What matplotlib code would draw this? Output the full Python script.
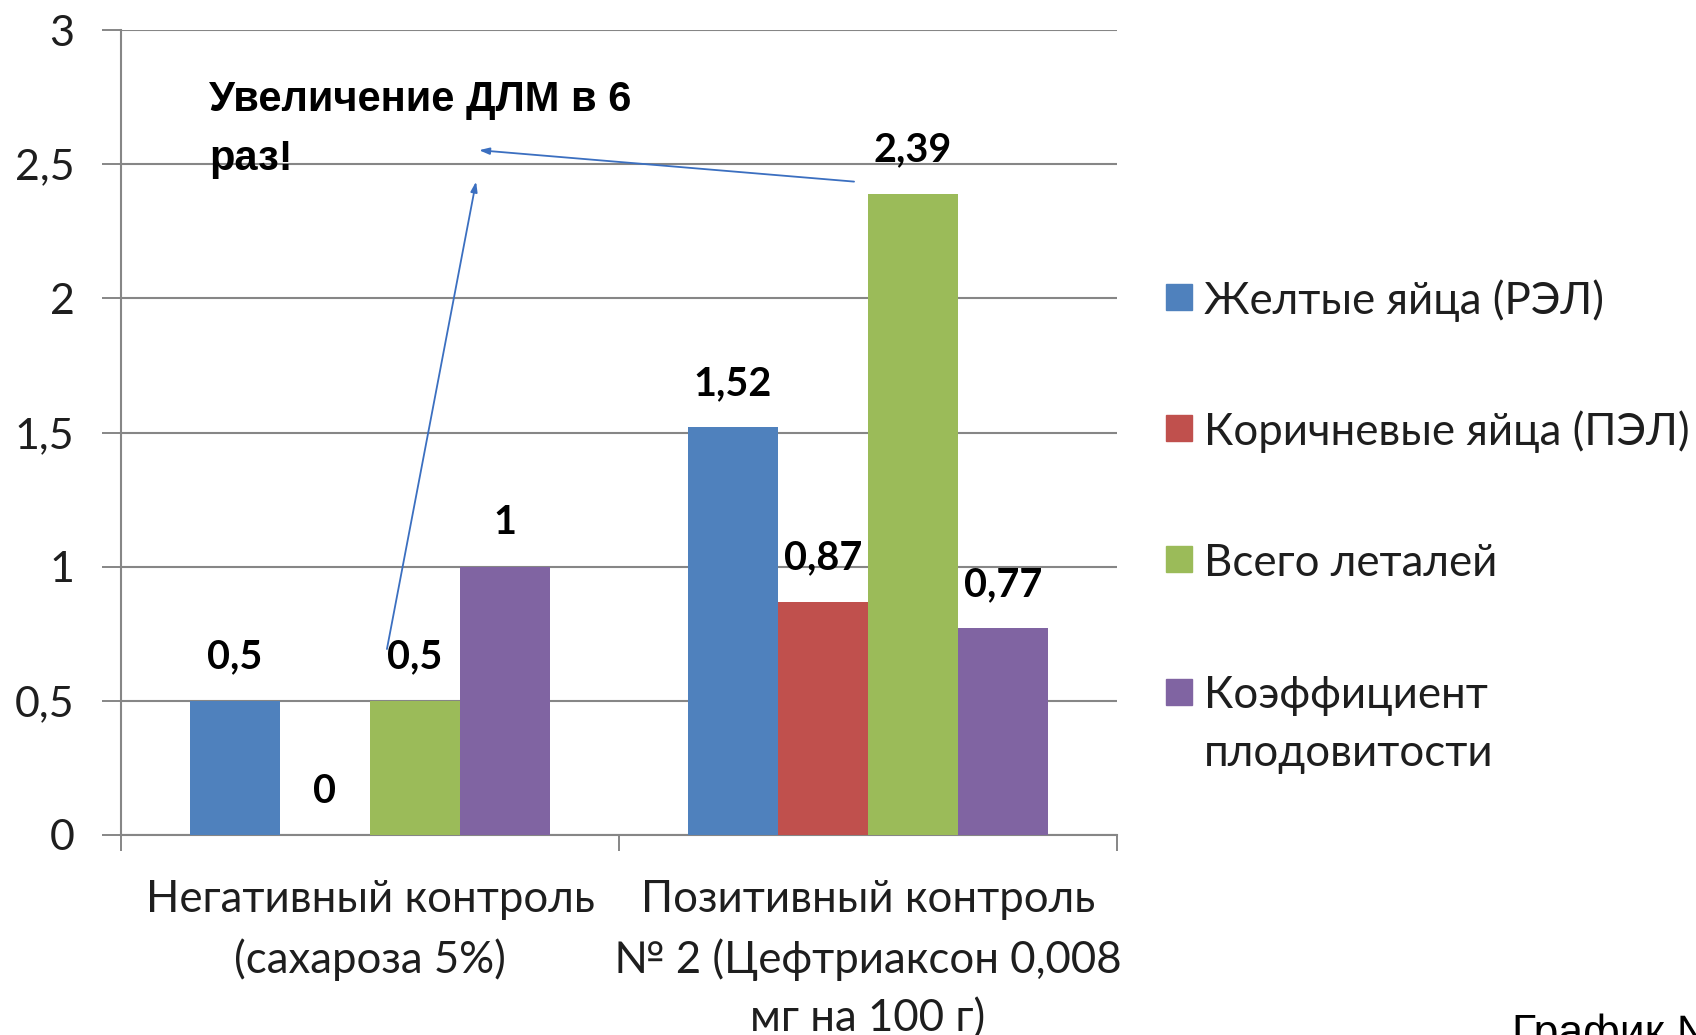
import matplotlib
matplotlib.use("Agg")
import matplotlib.pyplot as plt
from matplotlib.patches import Rectangle
import numpy as np

# ---- data ----
categories = ["Негативный контроль\n(сахароза 5%)",
              "Позитивный контроль\n№ 2 (Цефтриаксон 0,008\nмг на 100 г)"]
series_names = ["Желтые яйца (РЭЛ)", "Коричневые яйца (ПЭЛ)",
                "Всего леталей", "Коэффициент\nплодовитости"]
yellow_eggs = [0.5, 1.52]
brown_eggs = [0.0, 0.87]
total_lethals = [0.5, 2.39]
fertility = [1.0, 0.77]
series_values = [yellow_eggs, brown_eggs, total_lethals, fertility]
y_ticks = [0, 0.5, 1, 1.5, 2, 2.5, 3]
y_tick_labels = ["0", "0,5", "1", "1,5", "2", "2,5", "3"]
annotation_text = ["Увеличение ДЛМ в 6", "раз!"]

colors = ["#4F81BD", "#C0504D", "#9BBB59", "#8064A2"]
grid_c = "#868686"
text_c = "#1e1e1e"
cal = ["Lato", "DejaVu Sans"]

W, H = 1696, 1035
fig = plt.figure(figsize=(W / 100, H / 100), dpi=100)
ax = fig.add_axes([121 / W, (H - 835) / H, 996 / W, 805 / H])

x = np.arange(len(categories))
bw = 0.181
for i, (vals, c) in enumerate(zip(series_values, colors)):
    xs = x + (i - 1.5) * bw
    ax.bar(xs, vals, width=bw, color=c, zorder=3, linewidth=0)
    for xi, v in zip(xs, vals):
        lab = ("%g" % v).replace(".", ",")
        ax.annotate(lab, (xi, v), xytext=(0, 31.5), textcoords="offset points",
                    ha="center", va="center", fontsize=28.5, fontweight="bold",
                    family=cal, color="black", zorder=5)

ax.set_xlim(-0.5, 1.5)
ax.set_ylim(0, 3)
ax.set_yticks(y_ticks)
ax.set_yticklabels(y_tick_labels, family=cal, fontsize=31, color=text_c)
ax.tick_params(axis="y", length=13.5, width=1.4, color=grid_c, pad=20)
ax.yaxis.grid(True, color=grid_c, linewidth=1.5, zorder=0)
ax.set_axisbelow(True)

ax.set_xticks(x)
ax.set_xticklabels(categories, family=cal, fontsize=31.5, color=text_c,
                   linespacing=1.52, va="top")
ax.tick_params(axis="x", length=0, pad=32)
ax.set_xticks([-0.5, 0.5, 1.5], minor=True)
ax.tick_params(axis="x", which="minor", length=11.5, width=1.4, color=grid_c,
               direction="out")

for s in ["top", "right"]:
    ax.spines[s].set_visible(False)
for s in ["left", "bottom"]:
    ax.spines[s].set_color(grid_c)
    ax.spines[s].set_linewidth(1.5)

# annotation
ax.text(-0.323, 2.697, annotation_text[0], fontsize=30, fontweight="bold",
        family=["Liberation Sans", "DejaVu Sans"], color="black", va="baseline", zorder=6)
ax.text(-0.323, 2.480, annotation_text[1], fontsize=30, fontweight="bold",
        family=["Liberation Sans", "DejaVu Sans"], color="black", va="baseline", zorder=6)
arrow_c = "#3B6FC0"
ax.annotate("", xy=(0.219, 2.552), xytext=(0.972, 2.435),
            arrowprops=dict(arrowstyle="-|>,head_length=0.6,head_width=0.2",
                            color=arrow_c, lw=1.3, shrinkA=0, shrinkB=0), zorder=6)
ax.annotate("", xy=(0.213, 2.435), xytext=(0.034, 0.693),
            arrowprops=dict(arrowstyle="-|>,head_length=0.6,head_width=0.2",
                            color=arrow_c, lw=1.3, shrinkA=0, shrinkB=0), zorder=6)

# legend (manual, handles aligned with first text line)
leg_y = [297, 428, 559, 692]
for name, c, yy in zip(series_names, colors, leg_y):
    fig.patches.append(Rectangle((1166 / W, (H - yy - 13) / H), 26 / W, 26 / H,
                                 transform=fig.transFigure, color=c))
    if "\n" in name:
        fig.text(1204 / W, (H - yy + 17) / H, name, family=cal, fontsize=31.5,
                 color=text_c, va="top", linespacing=1.5)
    else:
        fig.text(1204 / W, (H - yy) / H, name, family=cal, fontsize=31.5,
                 color=text_c, va="center_baseline")

fig.text(1512 / W, -11 / H, "График №", fontsize=32,
         family=["Liberation Sans", "DejaVu Sans"], color="black", va="baseline")

fig.savefig("out.png", dpi=100)
